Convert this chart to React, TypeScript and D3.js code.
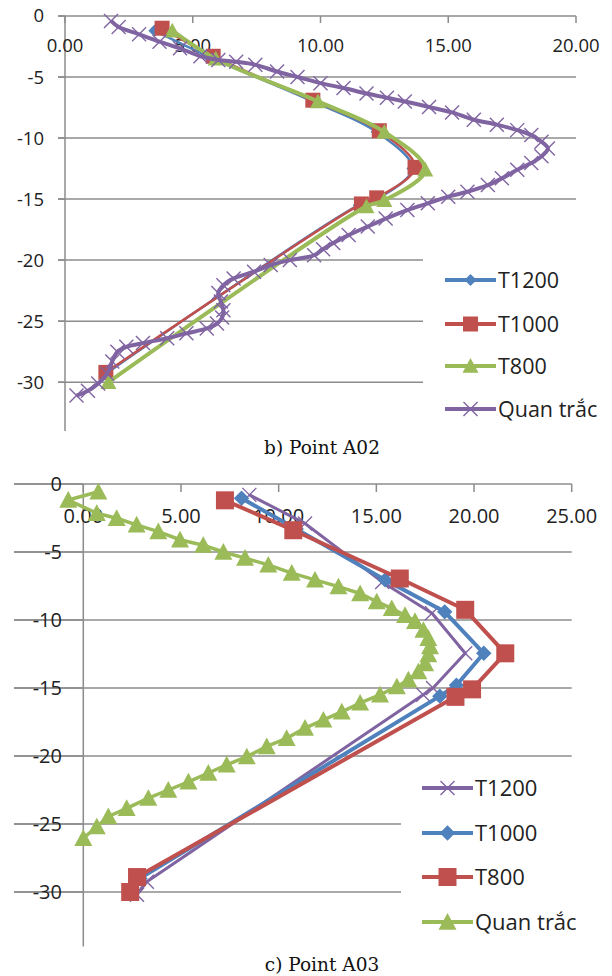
import React from "react";
import * as d3 from "d3";

type P = [number, number];

// ---------- Chart b) Point A02 : [displacement, depth] ----------
const a02T1200: P[] = [[3.5,-1.2],[5.7,-3.4],[9.7,-7.0],[12.2,-9.5],[13.6,-12.5],[12.2,-15.0],[11.5,-15.5],[1.6,-29.3]];
const a02T1000: P[] = [[3.8,-1.0],[5.8,-3.3],[9.7,-6.9],[12.3,-9.4],[13.7,-12.4],[12.2,-14.9],[11.6,-15.4],[1.6,-29.2]];
const a02T800: P[] = [[4.2,-1.2],[5.9,-3.5],[9.9,-7.0],[12.5,-9.5],[14.1,-12.6],[12.5,-15.1],[11.8,-15.6],[1.7,-30.0]];
const a02Obs: P[] = [[1.8,-0.4],[2.1,-0.9],[2.9,-1.5],[3.7,-2.1],[4.5,-2.65],[5.3,-3.3],[6.0,-3.6],[6.7,-3.75],[7.45,-4.0],[8.3,-4.55],[9.1,-5.0],[10.0,-5.5],[10.9,-5.9],[11.8,-6.35],[12.6,-6.7],[13.3,-7.0],[14.25,-7.45],[15.15,-7.9],[16.0,-8.5],[16.9,-8.9],[17.7,-9.35],[18.25,-9.75],[18.65,-10.3],[18.9,-10.85],[18.65,-11.5],[18.25,-12.05],[17.7,-12.6],[17.1,-13.3],[16.55,-13.85],[15.75,-14.4],[15.0,-14.8],[14.2,-15.35],[13.4,-15.9],[12.55,-16.6],[11.85,-17.25],[11.1,-17.95],[10.5,-18.6],[10.1,-19.1],[9.75,-19.6],[8.8,-20.0],[8.05,-20.4],[7.4,-20.95],[6.6,-21.5],[6.2,-22.05],[6.0,-22.7],[6.1,-23.4],[6.2,-24.1],[6.15,-24.7],[5.95,-25.2],[5.55,-25.6],[4.75,-26.0],[4.0,-26.4],[3.05,-26.8],[2.4,-27.1],[2.05,-27.5],[1.85,-28.3],[1.65,-29.3],[1.3,-30.1],[0.9,-30.7],[0.45,-31.1]];
const a02XTicks = [0, 5, 10, 15, 20];
const a02YTicks = [0, -5, -10, -15, -20, -25, -30];
const a02Legend = ["T1200", "T1000", "T800", "Quan trắc"];

// ---------- Chart c) Point A03 ----------
const a03T1200: P[] = [[8.5,-0.8],[11.35,-2.9],[15.3,-7.2],[17.85,-9.5],[19.55,-12.45],[17.9,-15.0],[17.4,-15.5],[3.25,-29.25],[2.75,-30.2]];
const a03T1000: P[] = [[8.1,-1.05],[10.9,-3.3],[15.45,-7.05],[18.5,-9.4],[20.5,-12.45],[19.1,-14.8],[18.25,-15.6],[2.9,-29.0],[2.5,-30.0]];
const a03T800: P[] = [[7.25,-1.2],[10.75,-3.4],[16.2,-6.95],[19.55,-9.25],[21.6,-12.45],[19.9,-15.1],[19.05,-15.65],[2.75,-28.9],[2.4,-30.0]];
const a03Obs: P[] = [[0.77,-0.57],[-0.77,-1.18],[0.69,-2.15],[1.71,-2.52],[2.73,-3.0],[3.84,-3.5],[4.95,-4.1],[6.14,-4.5],[7.17,-5.0],[8.28,-5.45],[9.47,-5.95],[10.67,-6.55],[11.86,-7.05],[13.06,-7.55],[14.17,-8.05],[15.02,-8.65],[15.79,-9.15],[16.47,-9.65],[16.98,-10.1],[17.41,-10.75],[17.66,-11.35],[17.75,-11.95],[17.66,-12.55],[17.5,-13.2],[17.15,-13.8],[16.64,-14.4],[16.05,-14.9],[15.19,-15.5],[14.17,-16.1],[13.23,-16.75],[12.29,-17.35],[11.35,-17.95],[10.41,-18.7],[9.39,-19.3],[8.37,-20.05],[7.34,-20.65],[6.4,-21.25],[5.38,-21.9],[4.35,-22.5],[3.33,-23.1],[2.22,-23.85],[1.28,-24.45],[0.69,-25.2],[0.0,-26.05]];
const a03XTicks = [0, 5, 10, 15, 20, 25];
const a03YTicks = [0, -5, -10, -15, -20, -25, -30];
const a03Legend = ["T1200", "T1000", "T800", "Quan trắc"];

const BLUE = "#4F81BD", RED = "#C0504D", GREEN = "#9BBB59", PURPLE = "#8064A2";
const GRID = "#8c8c8c";
const FONT = "'Open Sans', sans-serif";

type MType = "diamond" | "square" | "triangle" | "x";

function Marker({ t, x, y, s, c }: { t: MType; x: number; y: number; s: number; c: string }) {
  const h = s / 2;
  if (t === "square") return <rect x={x - h} y={y - h} width={s} height={s} fill={c} />;
  if (t === "diamond") return <path d={`M${x},${y - h * 1.1}L${x + h * 1.1},${y}L${x},${y + h * 1.1}L${x - h * 1.1},${y}Z`} fill={c} />;
  if (t === "triangle") return <path d={`M${x},${y - h}L${x + h},${y + h * 0.85}L${x - h},${y + h * 0.85}Z`} fill={c} />;
  return (
    <g stroke={c} strokeWidth={1.4}>
      <line x1={x - h} y1={y - h} x2={x + h} y2={y + h} />
      <line x1={x - h} y1={y + h} x2={x + h} y2={y - h} />
    </g>
  );
}

type Series = { data: P[]; color: string; width: number; marker: MType; msize: number; name: string };

function Chart(props: {
  xDom: [number, number]; xRange: [number, number]; yRange: [number, number]; gridLeft: number;
  xTicks: number[]; yTicks: number[]; series: Series[]; smooth: boolean; fontSize: number;
  xLabelY: number; yLabelX: number; tickLen: number; yTickLeft: number;
  legendBox: [number, number, number, number]; legendYs: number[]; legendLine: [number, number];
  legendFont: number;
}) {
  const x = d3.scaleLinear().domain(props.xDom).range(props.xRange);
  const y = d3.scaleLinear().domain([0, -34]).range(props.yRange);
  const line = d3.line<P>().x(d => x(d[0])).y(d => y(d[1]))
    .curve(props.smooth ? d3.curveCatmullRom.alpha(0.5) : d3.curveLinear);
  const xEnd = x(props.xTicks[props.xTicks.length - 1]);
  const [lx, ly, lw, lh] = props.legendBox;
  return (
    <g>
      {props.yTicks.map(t => (
        <line key={"g" + t} x1={props.gridLeft} x2={xEnd} y1={y(t)} y2={y(t)} stroke={GRID} strokeWidth={1.5} />
      ))}
      {props.yTicks.map(t => (
        <line key={"yt" + t} x1={props.yTickLeft} x2={x(0)} y1={y(t)} y2={y(t)} stroke={GRID} strokeWidth={1.5} />
      ))}
      <line x1={x(0)} x2={x(0)} y1={y(0)} y2={props.yRange[1]} stroke={GRID} strokeWidth={1.5} />
      {props.xTicks.map(t => (
        <line key={"xt" + t} x1={x(t)} x2={x(t)} y1={y(0)} y2={y(0) + props.tickLen} stroke={GRID} strokeWidth={1.5} />
      ))}
      {props.yTicks.map(t => (
        <text key={"yl" + t} x={props.yLabelX} y={y(t)} dy="0.35em" textAnchor="end" fontFamily={FONT} fontSize={props.fontSize} fill="#222">{t}</text>
      ))}
      {props.xTicks.map(t => (
        <text key={"xl" + t} x={x(t)} y={props.xLabelY} dy="0.35em" textAnchor="middle" fontFamily={FONT} fontSize={props.fontSize} fill="#222">{t.toFixed(2)}</text>
      ))}
      <rect x={lx} y={ly} width={lw} height={lh} fill="#fff" />
      {props.series.map((s, i) => (
        <g key={"s" + i}>
          <path d={line(s.data) || ""} fill="none" stroke={s.color} strokeWidth={s.width} strokeLinejoin="round" />
          {s.data.map((d, j) => <Marker key={j} t={s.marker} x={x(d[0])} y={y(d[1])} s={s.msize} c={s.color} />)}
        </g>
      ))}
      {props.series.map((s, i) => {
        const yy = props.legendYs[i];
        const [a, b] = props.legendLine;
        return (
          <g key={"l" + i}>
            <line x1={a} x2={b} y1={yy} y2={yy} stroke={s.color} strokeWidth={4} />
            <Marker t={s.marker} x={(a + b) / 2} y={yy} s={s.msize} c={s.color} />
            <text x={b + 2} y={yy} dy="0.35em" fontFamily={FONT} fontSize={props.legendFont} fill="#222">{s.name}</text>
          </g>
        );
      })}
    </g>
  );
}

export default function App() {
  const topSeries: Series[] = [
    { data: a02T1200, color: BLUE, width: 2.5, marker: "diamond", msize: 11, name: a02Legend[0] },
    { data: a02T1000, color: RED, width: 2.5, marker: "square", msize: 15, name: a02Legend[1] },
    { data: a02T800, color: GREEN, width: 4, marker: "triangle", msize: 16, name: a02Legend[2] },
    { data: a02Obs, color: PURPLE, width: 4, marker: "x", msize: 14, name: a02Legend[3] },
  ];
  const botSeries: Series[] = [
    { data: a03T1200, color: PURPLE, width: 3, marker: "x", msize: 14, name: a03Legend[0] },
    { data: a03T1000, color: BLUE, width: 4, marker: "diamond", msize: 14, name: a03Legend[1] },
    { data: a03T800, color: RED, width: 4, marker: "square", msize: 18, name: a03Legend[2] },
    { data: a03Obs, color: GREEN, width: 3.5, marker: "triangle", msize: 18, name: a03Legend[3] },
  ];
  return (
    <svg width={612} height={976} style={{ position: "absolute", left: 0, top: 0, background: "#fff" }}>
      <rect width={612} height={976} fill="#fff" />
      <Chart xDom={[0, 20]} xRange={[65, 576]} yRange={[16, 431]} gridLeft={58}
        xTicks={a02XTicks} yTicks={a02YTicks} series={topSeries} smooth={true} fontSize={18.5}
        xLabelY={46} yLabelX={44} tickLen={7} yTickLeft={58}
        legendBox={[423, 250, 189, 182]} legendYs={[280, 324, 366, 409]} legendLine={[445, 496]}
        legendFont={21.5} />
      <text x={322} y={448} dy="0.35em" textAnchor="middle" fontFamily="'DejaVu Serif', serif" fontSize={18.5} fill="#111">b) Point A02</text>
      <Chart xDom={[0, 25]} xRange={[83.3, 571.7]} yRange={[484, 946.4]} gridLeft={14}
        xTicks={a03XTicks} yTicks={a03YTicks} series={botSeries} smooth={false} fontSize={20}
        xLabelY={516} yLabelX={62} tickLen={8} yTickLeft={14}
        legendBox={[401, 765, 211, 180]} legendYs={[788, 833, 877, 922]} legendLine={[422, 473]}
        legendFont={22} />
      <text x={322} y={965} dy="0.35em" textAnchor="middle" fontFamily="'DejaVu Serif', serif" fontSize={18.5} fill="#111">c) Point A03</text>
    </svg>
  );
}
